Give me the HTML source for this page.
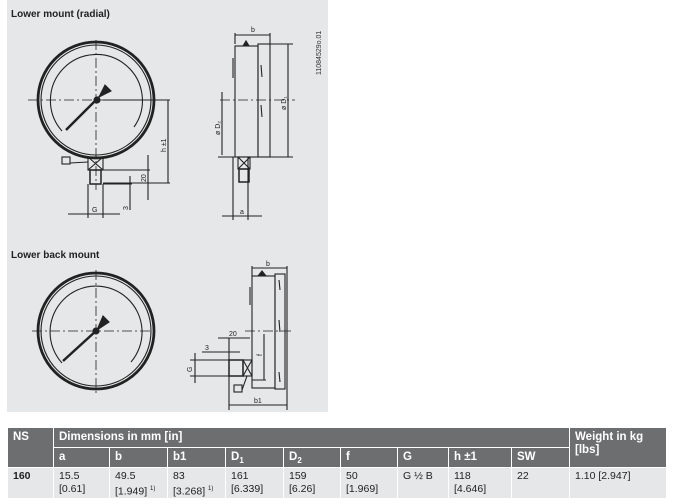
<!DOCTYPE html>
<html><head><meta charset="utf-8"><style>
body{margin:0;background:#fff;width:675px;height:504px;overflow:hidden;font-family:"Liberation Sans",Arial,sans-serif}
.bg{position:absolute;left:7px;top:0;width:321px;height:412px;background:#e6e7e8}
svg{position:absolute;left:0;top:0}
table{position:absolute;left:7px;top:427px;border-collapse:collapse;font-size:10.5px;color:#222;width:659px;table-layout:fixed}
th{background:#6d6e70;color:#fff;text-align:left;font-weight:bold;padding:2px 5px 0;border:1.5px solid #fff;height:17px;font-size:11.5px;vertical-align:top;line-height:15px;overflow:hidden}
td{background:#e6e7e8;padding:2px 5px 0;border:1.5px solid #fff;vertical-align:top;line-height:12.5px;height:27px}
.s{position:relative;top:3px;font-size:8px}
</style></head><body>
<div class="bg"></div>
<svg width="675" height="420" viewBox="0 0 675 420" font-family="Liberation Sans, Arial, sans-serif">
<text x="11" y="17" font-size="10" font-weight="bold" fill="#222">Lower mount (radial)</text>
<text x="11" y="258" font-size="10" font-weight="bold" fill="#222">Lower back mount</text>
<text transform="translate(321,75) rotate(-90)" font-size="7" fill="#333">11084529o.01</text>
<g stroke="#222" fill="none" stroke-width="1.1">
<circle cx="96" cy="100" r="58" stroke-width="2.8"/>
<circle cx="96" cy="100" r="55"/>
<path d="M62 131 A46 46 0 1 1 134 127"/>
<path d="M66 130 L99 97" stroke-width="2.5"/>
<path d="M99 97 L105 85 L111 91 Z" fill="#222"/>
<circle cx="97" cy="100" r="3" fill="#222"/>
<path d="M28 100 H170 M96 40 V190" stroke-dasharray="10,3,2,3" stroke-width="0.8"/>
<rect x="88" y="157" width="15" height="13"/><path d="M88 157 L103 170 M103 157 L88 170"/>
<rect x="90" y="170" width="11" height="14" stroke-width="1.5"/>
<rect x="62" y="157" width="8" height="7"/><path d="M70 163 L88 162"/>
<path d="M103 100 H170 M168 100 V183 M103 183 H170 M103 170 H150 M148 155 V200 M103 184 H132 M130 176 V210 M88 184 V218 M103 184 V218 M68 214 H120"/>
<text transform="translate(166,152) rotate(-90)" font-size="7" fill="#222" stroke="none">h ±1</text>
<text transform="translate(146,182) rotate(-90)" font-size="7" fill="#222" stroke="none">20</text>
<text transform="translate(128,210) rotate(-90)" font-size="7" fill="#222" stroke="none">3</text>
<text x="92" y="212" font-size="7" fill="#222" stroke="none">G</text>
<rect x="235" y="46" width="23" height="111"/>
<rect x="258" y="44" width="12" height="113"/>
<path d="M243 46 L246 41 L249 46 Z" fill="#222"/>
<path d="M233 58 v20 M261 65 l1 12 M261 105 l1 12"/>
<path d="M220 100 H295" stroke-dasharray="10,3,2,3" stroke-width="0.8"/>
<path d="M235 35 H270 M235 33 V44 M270 33 V44 M270 44 H293 M288 44 V157 M270 157 H293 M222 92 V155 M218 157 H258 M233 157 V220 M248 157 V220 M222 216 H262"/>
<rect x="238" y="157" width="12" height="12"/><path d="M238 157 L250 169 M250 157 L238 169"/>
<rect x="239" y="169" width="10" height="13" stroke-width="1.5"/>
<text x="251" y="32" font-size="7" fill="#222" stroke="none">b</text>
<text transform="translate(286,110) rotate(-90)" font-size="7" fill="#222" stroke="none">ø D₁</text>
<text transform="translate(220,135) rotate(-90)" font-size="7" fill="#222" stroke="none">ø D₂</text>
<text x="240" y="214" font-size="7" fill="#222" stroke="none">a</text>
<circle cx="96" cy="331" r="58" stroke-width="2.8"/>
<circle cx="96" cy="331" r="55"/>
<path d="M62 363 A46 46 0 1 1 131 362"/>
<path d="M63 361 L97 330" stroke-width="2.5"/>
<path d="M97 330 L103 316 L109 322 Z" fill="#222"/>
<circle cx="96" cy="331" r="3" fill="#222"/>
<path d="M32 331 H158 M96 270 V395" stroke-dasharray="10,3,2,3" stroke-width="0.8"/>
<rect x="252" y="276" width="23" height="112"/>
<rect x="275" y="274" width="10" height="115"/>
<path d="M258 276 L262 271 L266 276 Z" fill="#222"/>
<path d="M250 287 v18 M279 280 l1 10 M279 320 l1 12 M279 372 l1 10"/>
<path d="M245 331 H292" stroke-dasharray="10,3,2,3" stroke-width="0.8"/>
<rect x="243" y="360" width="9" height="16"/><path d="M243 360 L252 376 M252 360 L243 376"/>
<rect x="229" y="360" width="14" height="16" stroke-width="1.5"/>
<rect x="234" y="385" width="8" height="7"/><path d="M242 390 L247 376"/>
<path d="M252 268 H287 M252 266 V276 M287 266 V410 M229 376 V410 M229 405 H287 M218 338 H250 M229 338 V360 M202 352 H240 M264 334 V380 M252 380 H266 M195 353 V383 M190 360 H229 M190 376 H229"/>
<text x="266" y="266" font-size="7" fill="#222" stroke="none">b</text>
<text x="229" y="336" font-size="7" fill="#222" stroke="none">20</text>
<text x="205" y="350" font-size="7" fill="#222" stroke="none">3</text>
<text x="254" y="403" font-size="7" fill="#222" stroke="none">b1</text>
<text transform="translate(192,372) rotate(-90)" font-size="7" fill="#222" stroke="none">G</text>
<text transform="translate(262,356) rotate(-90)" font-size="7" fill="#222" stroke="none">f</text>
</g>
</svg>
<table>
<colgroup><col style="width:46px"><col style="width:56px"><col style="width:58px"><col style="width:58px"><col style="width:58px"><col style="width:57px"><col style="width:57px"><col style="width:51px"><col style="width:63px"><col style="width:58px"><col style="width:97px"></colgroup>
<tr><th rowspan="2">NS</th><th colspan="9">Dimensions in mm [in]</th><th rowspan="2" style="line-height:13px;padding-top:3px">Weight in kg<br>[lbs]</th></tr>
<tr><th>a</th><th>b</th><th>b1</th><th>D<span class="s">1</span></th><th>D<span class="s">2</span></th><th>f</th><th>G</th><th>h ±1</th><th>SW</th></tr>
<tr><td><b>160</b></td><td>15.5<br>[0.61]</td><td>49.5<br>[1.949] <sup style="font-size:6px">1)</sup></td><td>83<br>[3.268] <sup style="font-size:6px">1)</sup></td><td>161<br>[6.339]</td><td>159<br>[6.26]</td><td>50<br>[1.969]</td><td>G ½ B</td><td>118<br>[4.646]</td><td>22</td><td>1.10 [2.947]</td></tr>
</table>
</body></html>
